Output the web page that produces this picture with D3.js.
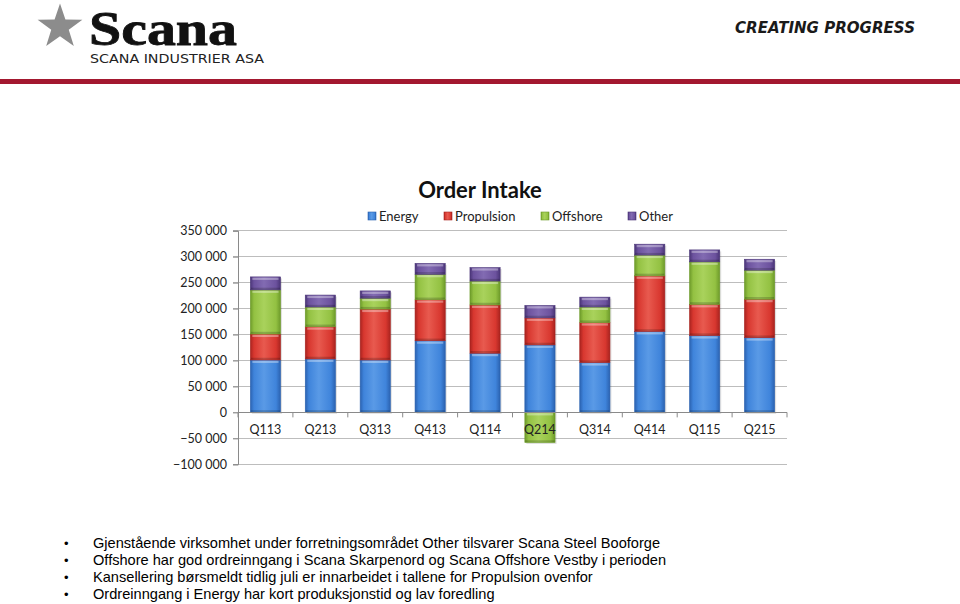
<!DOCTYPE html>
<html><head><meta charset="utf-8">
<script src="https://cdn.jsdelivr.net/npm/d3@7"></script>
<style>html,body{margin:0;padding:0;background:#fff;}svg{display:block;}</style>
</head><body>
<svg id="c" width="960" height="604"></svg>
<script>
const categories = ["Q113","Q213","Q313","Q413","Q114","Q214","Q314","Q414","Q115","Q215"];
const seriesNames = ["Energy","Propulsion","Offshore","Other"];
const energy     = [101000,103000,101000,138000,114000,130000, 96000,156000,148000,144000];
const propulsion = [ 50000, 62000, 98000, 79000, 93000, 52000, 77000,107000, 60000, 74000];
const offshore   = [ 85000, 38000, 21000, 49000, 46000,-58000, 30000, 40000, 82000, 56000];
const other      = [ 25000, 23000, 14000, 21000, 26000, 24000, 19000, 21000, 23000, 21000];
const yTicks = [-100000,-50000,0,50000,100000,150000,200000,250000,300000,350000];
const bullets = [
  "Gjenstående virksomhet under forretningsområdet Other tilsvarer Scana Steel Booforge",
  "Offshore har god ordreinngang i Scana Skarpenord og Scana Offshore Vestby i perioden",
  "Kansellering børsmeldt tidlig juli er innarbeidet i tallene for Propulsion ovenfor",
  "Ordreinngang i Energy har kort produksjonstid og lav foredling"
];
const colors = {Energy:["#2b62b0","#3f84db","#5a9ae6"],Propulsion:["#a8231f","#d8372f","#e85a4f"],Offshore:["#6d9a2a","#93c142","#a9d25c"],Other:["#4a3577","#6c529e","#826bb2"]};

const rows = categories.map((c,i)=>({cat:c,Energy:energy[i],Propulsion:propulsion[i],Offshore:offshore[i],Other:other[i]}));

const svg = d3.select("#c");
const defs = svg.append("defs");
seriesNames.forEach(s=>{
  const g = defs.append("linearGradient").attr("id","g_"+s).attr("x1",0).attr("x2",1).attr("y1",0).attr("y2",0);
  const c = colors[s];
  [[0,c[0]],[0.12,c[1]],[0.45,c[2]],[0.85,c[1]],[1,c[0]]].forEach(([o,col])=>g.append("stop").attr("offset",o).attr("stop-color",col));
});

// Header
const star = d3.range(10).map(i=>{const r=i%2?9.2:23.5;const a=-Math.PI/2+i*Math.PI/5;return [60+r*Math.cos(a),27+r*Math.sin(a)];});
svg.append("polygon").attr("points",star.map(p=>p.join(",")).join(" ")).attr("fill","#8c8c8c");
svg.append("text").attr("x",89).attr("y",45).attr("font-family","Liberation Serif").attr("font-weight","bold")
  .attr("font-size",48).attr("textLength",148).attr("lengthAdjust","spacingAndGlyphs").attr("fill","#111")
  .attr("stroke","#111").attr("stroke-width",0.8).text("Scana");
svg.append("text").attr("x",90).attr("y",63).attr("font-family","DejaVu Sans").attr("font-size",12.5)
  .attr("textLength",174).attr("lengthAdjust","spacingAndGlyphs").attr("fill","#222").text("SCANA INDUSTRIER ASA");
svg.append("text").attr("x",735).attr("y",33).attr("font-family","DejaVu Sans").attr("font-weight","bold").attr("font-style","italic")
  .attr("font-size",16).attr("textLength",180).attr("lengthAdjust","spacingAndGlyphs").attr("fill","#1a1a1a").text("CREATING PROGRESS");
svg.append("rect").attr("x",0).attr("y",79).attr("width",960).attr("height",5).attr("fill","#a3182f");

// Chart
const x = d3.scaleBand().domain(categories).range([238,787]).paddingInner(0.45).paddingOuter(0.225);
const y = d3.scaleLinear().domain([-100000,350000]).range([464.3,230.7]);

svg.append("g").selectAll("line").data(yTicks).join("line")
  .attr("x1",233).attr("x2",787).attr("y1",d=>y(d)).attr("y2",d=>y(d))
  .attr("stroke","#bdbdbd").attr("stroke-width",1).attr("shape-rendering","crispEdges");

const yAxis = svg.append("g").attr("transform","translate(238,0)")
  .call(d3.axisLeft(y).tickValues(yTicks).tickSize(5).tickFormat(d=>d3.format(",")(d).replace(/,/g," ")));
yAxis.select(".domain").attr("stroke","#8a8a8a");
yAxis.selectAll(".tick line").attr("stroke","#8a8a8a");
yAxis.selectAll("text").attr("font-family","Lato").attr("font-size",12.5).attr("fill","#222").attr("x",-11);

const stack = d3.stack().keys(seriesNames).offset(d3.stackOffsetDiverging);
const stacked = stack(rows);

const barG = svg.append("g");
stacked.forEach(layer=>{
  barG.append("g").selectAll("rect").data(layer).join("rect")
    .attr("x",d=>x(d.data.cat)+1.5).attr("width",x.bandwidth())
    .attr("y",d=>y(Math.max(d[0],d[1]))+1.5).attr("height",d=>Math.abs(y(d[0])-y(d[1])))
    .attr("fill","#000").attr("opacity",0.12);
});
stacked.forEach(layer=>{
  const k = layer.key;
  const g = barG.append("g");
  g.selectAll("rect.b").data(layer).join("rect").attr("class","b")
    .attr("x",d=>x(d.data.cat)).attr("width",x.bandwidth())
    .attr("y",d=>y(Math.max(d[0],d[1]))).attr("height",d=>Math.abs(y(d[0])-y(d[1])))
    .attr("fill","url(#g_"+k+")").attr("stroke",colors[k][0]).attr("stroke-width",0.6);
  const big = layer.filter(d=>Math.abs(y(d[0])-y(d[1]))>6);
  g.selectAll("rect.h").data(big).join("rect").attr("class","h")
    .attr("x",d=>x(d.data.cat)+2).attr("width",x.bandwidth()-4)
    .attr("y",d=>y(Math.max(d[0],d[1]))+0.8).attr("height",2.2)
    .attr("fill","#fff").attr("opacity",0.35);
  g.selectAll("rect.s").data(big).join("rect").attr("class","s")
    .attr("x",d=>x(d.data.cat)+0.5).attr("width",x.bandwidth()-1)
    .attr("y",d=>y(Math.min(d[0],d[1]))-2.2).attr("height",1.8)
    .attr("fill","#000").attr("opacity",0.18);
});

const xAxisG = svg.append("g");
xAxisG.append("line").attr("x1",238).attr("x2",787).attr("y1",y(0)).attr("y2",y(0)).attr("stroke","#8a8a8a").attr("shape-rendering","crispEdges");
const bounds = categories.map(c=>x(c)-x.step()*x.paddingInner()/2).concat([787]);
xAxisG.selectAll("line.t").data(bounds).join("line").attr("class","t")
  .attr("x1",d=>d).attr("x2",d=>d).attr("y1",y(0)).attr("y2",y(0)+5).attr("stroke","#8a8a8a");
xAxisG.selectAll("text").data(categories).join("text")
  .attr("x",d=>x(d)+x.bandwidth()/2).attr("y",434).attr("text-anchor","middle")
  .attr("font-family","Lato").attr("font-size",12.5).attr("fill","#222").text(d=>d);

svg.append("text").attr("x",480).attr("y",198).attr("text-anchor","middle").attr("font-family","Lato").attr("font-weight","bold")
  .attr("font-size",22).attr("fill","#111").text("Order Intake");
const legX = [368,444,541,628];
const leg = svg.append("g").selectAll("g").data(seriesNames).join("g").attr("transform",(d,i)=>`translate(${legX[i]},0)`);
leg.append("rect").attr("x",0).attr("y",212).attr("width",8).attr("height",8).attr("fill",d=>`url(#g_${d})`).attr("stroke",d=>colors[d][0]).attr("stroke-width",0.6);
leg.append("text").attr("x",11).attr("y",221).attr("font-family","Lato").attr("font-size",13).attr("fill","#222").text(d=>d);

const bl = svg.append("g").selectAll("g").data(bullets).join("g").attr("transform",(d,i)=>`translate(0,${548+i*17})`);
bl.append("text").attr("x",64).attr("y",0).attr("font-family","Liberation Sans").attr("font-size",13).attr("fill","#000").text("•");
bl.append("text").attr("x",93).attr("y",0).attr("font-family","Liberation Sans").attr("font-size",14.6).attr("fill","#000").text(d=>d);
</script>
</body></html>
